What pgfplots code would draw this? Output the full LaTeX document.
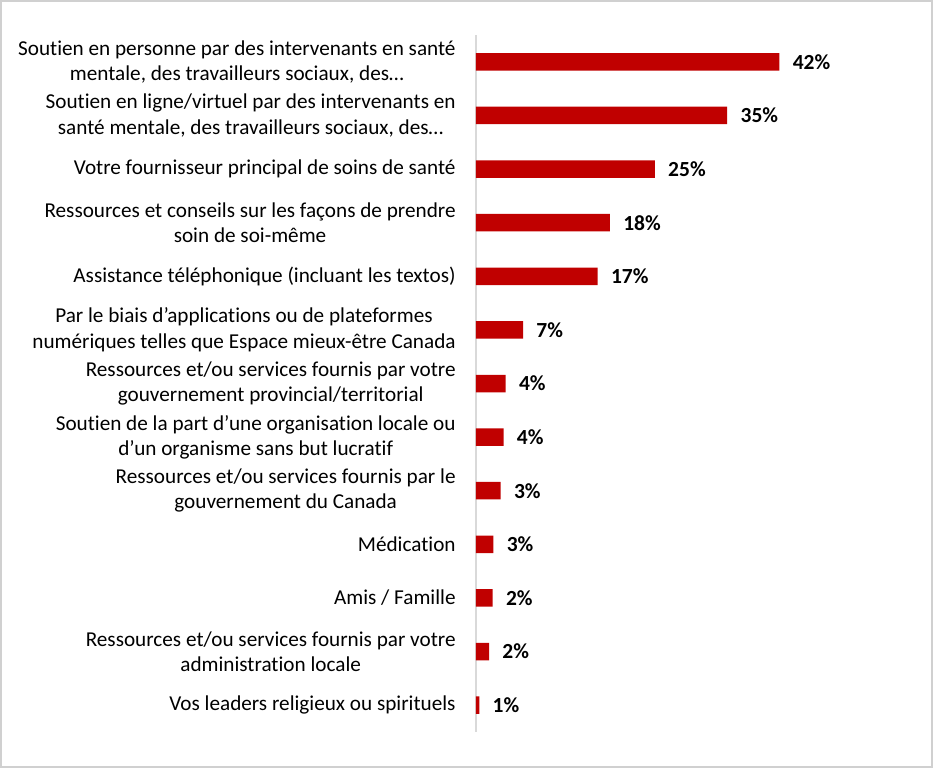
\documentclass[border=0pt]{standalone}
\usepackage{pgfplots}
\pgfplotsset{compat=1.18}
\usepackage{fontspec}
\setmainfont{Carlito}[Ligatures={NoCommon}]
\definecolor{barred}{HTML}{C00000}
\definecolor{axgray}{HTML}{D9D9D9}
\definecolor{framegray}{HTML}{D0D0D0}
\begin{document}
\begin{tikzpicture}[x=0.5pt,y=0.5pt]
\useasboundingbox (0,0) rectangle (933,768);
\draw[framegray, line width=1pt] (1,1) rectangle (932,767);
\begin{axis}[
  at={(238pt,18pt)}, anchor=south west,
  scale only axis,
  width=181pt, height=348.5pt,
  xmin=0, xmax=50,
  ymin=-0.5, ymax=12.5,
  y dir=reverse,
  xbar, bar width=8.75pt, bar shift=0pt,
  axis x line=none,
  axis y line*=left,
  y axis line style={axgray, line width=0.75pt},
  major tick length=0pt,
  ytick={0,...,12},
  yticklabels={
    {Soutien en personne par des intervenants en santé\\mentale, des travailleurs sociaux, des…},
    {Soutien en ligne/virtuel par des intervenants en\\santé mentale, des travailleurs sociaux, des…},
    {Votre fournisseur principal de soins de santé},
    {Ressources et conseils sur les façons de prendre\\soin de soi-même},
    {Assistance téléphonique (incluant les textos)},
    {Par le biais d’applications ou de plateformes\\numériques telles que Espace mieux-être Canada},
    {Ressources et/ou services fournis par votre\\gouvernement provincial/territorial},
    {Soutien de la part d’une organisation locale ou\\d’un organisme sans but lucratif},
    {Ressources et/ou services fournis par le\\gouvernement du Canada},
    {Médication},
    {Amis / Famille},
    {Ressources et/ou services fournis par votre\\administration locale},
    {Vos leaders religieux ou spirituels}
  },
  yticklabel style={align=center, inner sep=0pt, xshift=-10pt, text=black,
    font=\fontsize{10.6pt}{12.7pt}\selectfont},
  point meta=explicit symbolic,
  nodes near coords={\pgfplotspointmeta\%},
  nodes near coords style={anchor=west, inner sep=0pt, xshift=6.5pt, text=black,
    font=\bfseries\fontsize{10.75pt}{13pt}\selectfont},
]
\addplot[fill=barred, draw=none] coordinates {
  (41.9,0) [42]
  (34.7,1) [35]
  (24.7,2) [25]
  (18.5,3) [18]
  (16.8,4) [17]
  (6.5,5) [7]
  (4.1,6) [4]
  (3.8,7) [4]
  (3.4,8) [3]
  (2.4,9) [3]
  (2.3,10) [2]
  (1.8,11) [2]
  (0.45,12) [1]
};
\end{axis}
\end{tikzpicture}
\end{document}
